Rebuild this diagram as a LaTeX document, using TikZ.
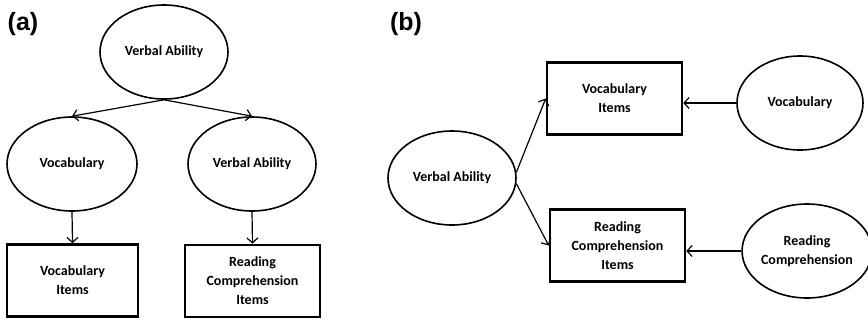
\documentclass[tikz,border=0pt]{standalone}
\usepackage{fontspec}
\setmainfont{Carlito}
\newfontfamily\labelfont{Liberation Sans}
\usetikzlibrary{shapes.geometric,arrows.meta}

\begin{document}
\begin{tikzpicture}[x=1pt,y=-1pt,
  latent/.style={ellipse,draw,line width=1.6pt,inner sep=0pt,
    minimum width=128pt,minimum height=94pt,
    font=\fontsize{14}{19}\selectfont\bfseries,align=center},
  observed/.style={rectangle,draw,line width=2.6pt,inner sep=0pt,
    minimum width=133pt,minimum height=72pt,
    font=\fontsize{14}{19}\selectfont\bfseries,align=center},
  path/.style={line width=1.2pt,-{Straight Barb[length=5pt,width=11pt,line width=1.2pt]}},
  panel/.style={font=\labelfont\fontsize{25}{25}\selectfont\bfseries,inner sep=0pt}]

\useasboundingbox (0,0) rectangle (868,322);

% panel (a): hierarchical model
\node[panel] (la) at (23,24) {(a)};
\node[latent] (ga) at (164,52) {Verbal Ability};
\node[latent,minimum width=130pt] (va) at (72,164) {Vocabulary};
\node[latent] (ra) at (252,164) {Verbal Ability};
\node[observed,minimum width=131pt] (vi) at (72.5,280.5) {Vocabulary\\Items};
\node[observed,minimum width=135pt] (ri) at (252.5,281) {Reading\\Comprehension\\Items};

\draw[path] (ga.south) -- (va.north);
\draw[path] (ga.south) -- (ra.north);
\draw[path] (va.south) -- (vi.north);
\draw[path] (ra.south) -- (ri.north);

% panel (b): bifactor model
\node[panel] (lb) at (406,24) {(b)};
\node[latent] (gb) at (452,178) {Verbal Ability};
\node[observed,minimum width=135pt] (vb) at (614.5,98.5) {Vocabulary\\Items};
\node[observed,minimum width=135pt] (rb) at (617.5,245.5) {Reading\\Comprehension\\Items};
\node[latent,minimum width=126pt] (sv) at (800,103) {Vocabulary};
\node[latent,minimum width=120pt] (sr) at (807,251) {Reading\\Comprehension};

\draw[path] (gb.5) -- (vb.west);
\draw[path] (gb.-5) -- (rb.west);
\draw[path] (sv.west) -- (sv.west -| vb.east);
\draw[path] (sr.west) -- (sr.west -| rb.east);
\end{tikzpicture}
\end{document}
